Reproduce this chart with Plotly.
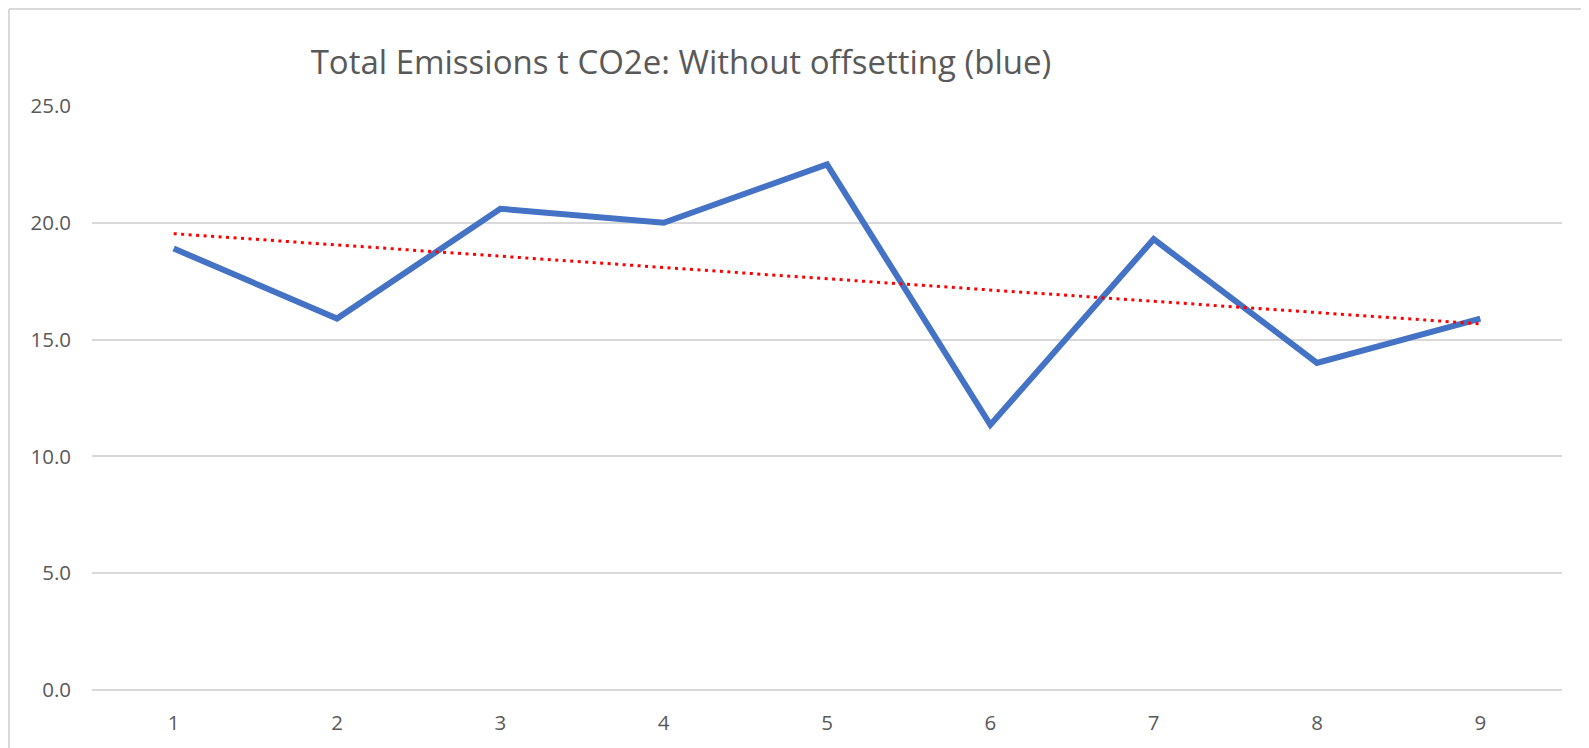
import numpy as np
import plotly.graph_objects as go

# Total emissions per period, t CO2e (without offsetting)
periods = [1, 2, 3, 4, 5, 6, 7, 8, 9]
emissions = [18.9, 15.9, 20.6, 20.0, 22.5, 11.35, 19.3, 14.0, 15.9]
y_ticks = [0, 5, 10, 15, 20, 25]

TITLE = "Total Emissions t CO2e: Without offsetting (blue)"
GRID = "#D9D9D9"
TEXT = "#595959"
FONT = "Open Sans"

# the page body has an 8px margin, so the figure is shrunk by that much
W, H = 1581, 740

# linear trendline, like Excel's
slope, intercept = np.polyfit(periods, emissions, 1)
trend = [slope * p + intercept for p in periods]

fig = go.Figure()
fig.add_trace(go.Scatter(x=periods, y=emissions, mode="lines",
                         line=dict(color="#4472C4", width=6), showlegend=False))
fig.add_trace(go.Scatter(x=periods, y=trend, mode="lines",
                         line=dict(color="#FF0000", width=3, dash="3px,4.5px"), showlegend=False))

fig.update_layout(
    width=W, height=H,
    margin=dict(l=84, r=27, t=98, b=58),
    paper_bgcolor="white", plot_bgcolor="white",
    font=dict(family=FONT, color=TEXT, size=20.5),
    title=dict(text=TITLE, x=673 / W, xanchor="center", y=1 - 54 / H, yanchor="middle",
               font=dict(family=FONT, size=33, color=TEXT)),
)
fig.update_xaxes(range=[0.5, 9.5], tickvals=periods, showgrid=False, zeroline=False,
                 showline=False, ticks="", ticklabelstandoff=18)
fig.update_yaxes(range=[0, 25], tickvals=y_ticks, ticktext=[f"{v:.1f}" for v in y_ticks],
                 showgrid=True, gridcolor=GRID, gridwidth=2, zeroline=True,
                 zerolinecolor=GRID, zerolinewidth=2, ticks="", ticklabelstandoff=20)

# chart area border (left and top edges visible)
plot_w, plot_h = W - 84 - 27, H - 98 - 58
fig.add_shape(type="line", xref="paper", yref="paper", x0=-83 / plot_w, x1=-83 / plot_w,
              y0=-0.2, y1=(plot_h + 97) / plot_h, line=dict(color=GRID, width=2))
fig.add_shape(type="line", xref="paper", yref="paper", x0=-83 / plot_w, x1=1.1,
              y0=(plot_h + 97) / plot_h, y1=(plot_h + 97) / plot_h, line=dict(color=GRID, width=2))

fig.write_html("out.html")
